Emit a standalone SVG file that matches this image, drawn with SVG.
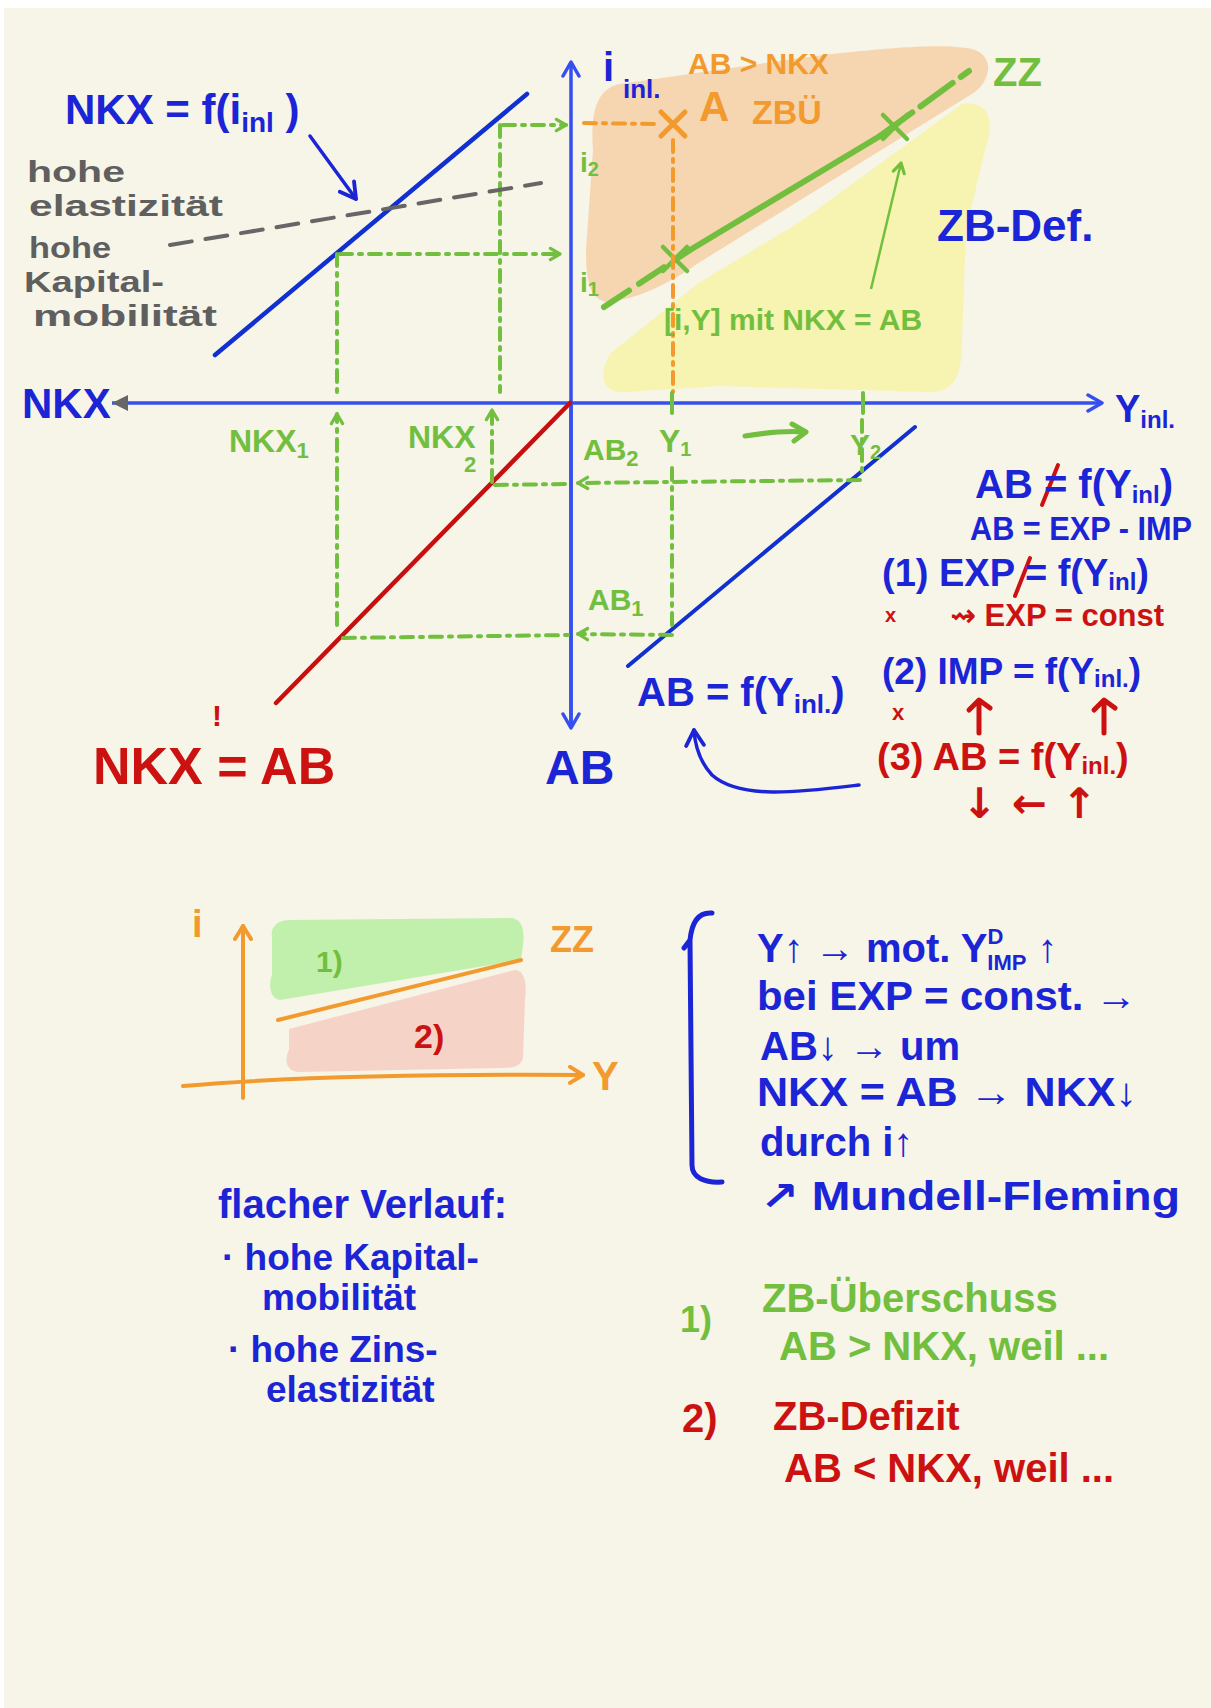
<svg xmlns="http://www.w3.org/2000/svg" width="1211" height="1708" viewBox="0 0 1211 1708">
<defs>
<style>
text{font-family:"Liberation Sans","DejaVu Sans",sans-serif;font-weight:bold}
.b{fill:#1b25d6}
.g{fill:#72bf3f}
.o{fill:#f29a2e}
.r{fill:#cc1111}
.gr{fill:#5f5f5f}
.arr{font-family:"DejaVu Sans",sans-serif}
.axis{stroke:#3550ee;stroke-width:3.5;fill:none}
.gd{stroke:#72bf3f;stroke-width:4;fill:none;stroke-dasharray:12 7 3 7;stroke-linecap:round}
.od{stroke:#f29a2e;stroke-width:4;fill:none;stroke-dasharray:12 7 3 7;stroke-linecap:round}
.ra{stroke:#cc1111;stroke-width:5;fill:none;stroke-linecap:round;stroke-linejoin:round}
</style>
<marker id="chevB" viewBox="0 0 20 20" refX="18" refY="10" markerWidth="20" markerHeight="20" markerUnits="userSpaceOnUse" orient="auto"><path d="M4,2 L18,10 L4,18" fill="none" stroke="#3550ee" stroke-width="3.5" stroke-linecap="round" stroke-linejoin="round"/></marker>
<marker id="chevDB" viewBox="0 0 20 20" refX="18" refY="10" markerWidth="22" markerHeight="22" markerUnits="userSpaceOnUse" orient="auto"><path d="M4,2 L18,10 L4,18" fill="none" stroke="#1b25d6" stroke-width="3.5" stroke-linecap="round" stroke-linejoin="round"/></marker>
<marker id="triGray" viewBox="0 0 20 20" refX="18" refY="10" markerWidth="20" markerHeight="20" markerUnits="userSpaceOnUse" orient="auto"><path d="M2,2 L18,10 L2,18 Z" fill="#666"/></marker>
<marker id="chevG" viewBox="0 0 20 20" refX="17" refY="10" markerWidth="16" markerHeight="16" markerUnits="userSpaceOnUse" orient="auto"><path d="M5,3 L17,10 L5,17" fill="none" stroke="#72bf3f" stroke-width="4" stroke-linecap="round" stroke-linejoin="round"/></marker>
<marker id="chevO" viewBox="0 0 20 20" refX="17" refY="10" markerWidth="20" markerHeight="20" markerUnits="userSpaceOnUse" orient="auto"><path d="M4,2 L17,10 L4,18" fill="none" stroke="#f29a2e" stroke-width="4" stroke-linecap="round" stroke-linejoin="round"/></marker>
</defs>
<rect width="1211" height="1708" fill="#ffffff"/>
<rect x="4" y="8" width="1207" height="1700" fill="#f7f4e8"/>

<g id="regions">
<path d="M593,150 C590,110 598,88 620,84 L800,58 C880,48 950,42 975,50 C995,58 990,80 975,92 L700,262 C660,290 630,300 608,302 C590,300 586,282 586,250 Z" fill="#f6d6b0"/>
<path d="M962,104 C990,100 995,122 985,150 L966,230 L962,340 C962,375 955,392 930,392 L720,386 L622,392 C600,392 598,370 612,352 L700,282 L800,222 Z" fill="#f6f4b0"/>
<path d="M272,937 C270,925 280,920 290,920 L510,918 C522,918 525,930 523,945 L521,960 L280,1000 C270,998 268,985 272,975 Z" fill="#c1f0ad"/>
<path d="M289,1029 L515,970 C525,970 527,985 525,1000 L523,1058 C520,1068 510,1068 500,1068 L300,1072 C286,1072 284,1060 289,1050 Z" fill="#f6d3c7"/>
</g>

<g id="connectors">
<line class="axis" x1="571" y1="725" x2="571" y2="62" marker-end="url(#chevB)"/>
<line class="axis" x1="571" y1="402" x2="571" y2="728" marker-end="url(#chevB)"/>
<line class="axis" x1="571" y1="403" x2="112" y2="403" marker-end="url(#triGray)"/>
<line class="axis" x1="571" y1="403" x2="1102" y2="403" marker-end="url(#chevB)"/>
<line x1="215" y1="355" x2="527" y2="94" stroke="#1030d0" stroke-width="4.5" stroke-linecap="round"/>
<line x1="570" y1="403" x2="276" y2="703" stroke="#c80f0f" stroke-width="4.5" stroke-linecap="round"/>
<line x1="628" y1="666" x2="915" y2="427" stroke="#1030d0" stroke-width="4" stroke-linecap="round"/>
<line x1="604" y1="307" x2="690" y2="250" stroke="#72bf3f" stroke-width="6" stroke-linecap="round" stroke-dasharray="30 12"/>
<line x1="690" y1="250" x2="880" y2="136" stroke="#72bf3f" stroke-width="6" stroke-linecap="round"/>
<line x1="880" y1="136" x2="969" y2="71" stroke="#72bf3f" stroke-width="6" stroke-linecap="round" stroke-dasharray="40 10"/>
<path d="M663,247 L687,271 M687,247 L663,271" stroke="#72bf3f" stroke-width="4.5" stroke-linecap="round"/>
<path d="M883,115 L907,139 M907,115 L883,139" stroke="#72bf3f" stroke-width="4.5" stroke-linecap="round"/>
<line x1="871" y1="289" x2="901" y2="163" stroke="#72bf3f" stroke-width="2.5" marker-end="url(#chevG)"/>
<path d="M661,112 L685,136 M685,112 L661,136" stroke="#f29a2e" stroke-width="5" stroke-linecap="round"/>
<line class="od" x1="584" y1="123" x2="655" y2="124"/>
<line class="od" x1="673" y1="140" x2="673" y2="392"/>
<line class="gd" x1="503" y1="125" x2="566" y2="125" marker-end="url(#chevG)"/>
<line class="gd" x1="500" y1="125" x2="500" y2="392"/>
<line class="gd" x1="340" y1="254" x2="560" y2="254" marker-end="url(#chevG)"/>
<line class="gd" x1="337" y1="254" x2="337" y2="392"/>
<line class="gd" x1="337" y1="625" x2="337" y2="414" marker-end="url(#chevG)"/>
<line class="gd" x1="492" y1="482" x2="492" y2="410" marker-end="url(#chevG)"/>
<line class="gd" x1="860" y1="480" x2="578" y2="483" marker-end="url(#chevG)"/>
<line class="gd" x1="495" y1="485" x2="570" y2="484"/>
<line class="gd" x1="672" y1="635" x2="578" y2="634" marker-end="url(#chevG)"/>
<line class="gd" x1="343" y1="638" x2="570" y2="635"/>
<line class="gd" x1="672" y1="468" x2="672" y2="632"/>
<line class="gd" x1="862" y1="420" x2="862" y2="478"/>
<line x1="672" y1="393" x2="672" y2="413" stroke="#72bf3f" stroke-width="4" stroke-linecap="round"/>
<line x1="863" y1="393" x2="863" y2="413" stroke="#72bf3f" stroke-width="4" stroke-linecap="round"/>
<path d="M745,436 C770,432 790,431 804,432" stroke="#72bf3f" stroke-width="5" fill="none" stroke-linecap="round"/>
<path d="M792,424 L806,432 L794,441" stroke="#72bf3f" stroke-width="5" fill="none" stroke-linecap="round" stroke-linejoin="round"/>
<line x1="170" y1="245" x2="541" y2="183" stroke="#666" stroke-width="4" stroke-dasharray="22 14" stroke-linecap="round"/>
<line x1="310" y1="136" x2="356" y2="199" stroke="#1b25d6" stroke-width="3.5" stroke-linecap="round" marker-end="url(#chevDB)"/>
<path d="M859,785 C800,792 740,800 712,775 C700,762 695,745 694,730" stroke="#1b25d6" stroke-width="3.5" fill="none" stroke-linecap="round" marker-end="url(#chevDB)"/>
<line x1="1042" y1="505" x2="1058" y2="465" stroke="#cc1111" stroke-width="4" stroke-linecap="round"/>
<line x1="1015" y1="596" x2="1030" y2="558" stroke="#cc1111" stroke-width="4" stroke-linecap="round"/>
<path class="ra" d="M979,733 L979,703 M969,710 L979,700 L990,708"/>
<path class="ra" d="M1104,733 L1104,703 M1094,710 L1104,700 L1115,708"/>
<line x1="243" y1="1098" x2="243" y2="926" stroke="#f29a2e" stroke-width="4" stroke-linecap="round" marker-end="url(#chevO)"/>
<path d="M183,1086 C300,1076 450,1074 583,1075" stroke="#f29a2e" stroke-width="4" fill="none" stroke-linecap="round" marker-end="url(#chevO)"/>
<line x1="278" y1="1020" x2="521" y2="960" stroke="#f29a2e" stroke-width="4" stroke-linecap="round"/>
<path d="M712,913 C700,912 692,920 690,940 L692,1165 C692,1178 705,1183 722,1182 M690,940 L684,948" stroke="#1b25d6" stroke-width="5" fill="none" stroke-linecap="round"/>
</g>

<g id="label-main-axes">
<text class="b" x="22" y="418" font-size="42">NKX</text>
<text class="b" x="603" y="81" font-size="40">i</text>
<text class="b" x="623" y="98" font-size="26">inl.</text>
<text class="b" x="1115" y="422" font-size="38">Y<tspan font-size="24" dy="6">inl.</tspan></text>
<text class="b" x="545" y="784" font-size="48">AB</text>
</g>

<g id="label-nkx-function">
<text class="b" x="65" y="124" font-size="42">NKX = f(i<tspan font-size="28" dy="8">inl</tspan><tspan dy="-8"> )</tspan></text>
</g>

<g id="label-gray-note">
<text class="gr" x="27" y="182" font-size="30" textLength="98" lengthAdjust="spacingAndGlyphs">hohe</text>
<text class="gr" x="29" y="216" font-size="30" textLength="194" lengthAdjust="spacingAndGlyphs">elastizität</text>
<text class="gr" x="29" y="258" font-size="30" textLength="82" lengthAdjust="spacingAndGlyphs">hohe</text>
<text class="gr" x="24" y="292" font-size="30" textLength="140" lengthAdjust="spacingAndGlyphs">Kapital-</text>
<text class="gr" x="33" y="326" font-size="30" textLength="184" lengthAdjust="spacingAndGlyphs">mobilität</text>
</g>

<g id="label-top-right">
<text class="o" x="688" y="74" font-size="30">AB &gt; NKX</text>
<text class="o" x="699" y="121" font-size="42">A</text>
<text class="o" x="752" y="124" font-size="34">ZBÜ</text>
<text class="g" x="993" y="86" font-size="40">ZZ</text>
<text class="b" x="937" y="241" font-size="44">ZB-Def.</text>
<text class="g" x="664" y="330" font-size="30">[i,Y] mit NKX = AB</text>
<text class="g" x="580" y="172" font-size="28">i<tspan font-size="20" dy="4">2</tspan></text>
<text class="g" x="580" y="292" font-size="28">i<tspan font-size="20" dy="4">1</tspan></text>
</g>

<g id="label-green-values">
<text class="g" x="229" y="452" font-size="32">NKX<tspan font-size="22" dy="6">1</tspan></text>
<text class="g" x="408" y="448" font-size="32">NKX</text>
<text class="g" x="464" y="472" font-size="22">2</text>
<text class="g" x="583" y="460" font-size="30">AB<tspan font-size="22" dy="6">2</tspan></text>
<text class="g" x="588" y="610" font-size="30">AB<tspan font-size="22" dy="6">1</tspan></text>
<text class="g" x="659" y="452" font-size="32">Y<tspan font-size="20" dy="4">1</tspan></text>
<text class="g" x="850" y="455" font-size="30">Y<tspan font-size="20" dy="4">2</tspan></text>
</g>

<g id="label-red-identity">
<text class="r" x="93" y="784" font-size="52">NKX = AB</text>
<text class="r" x="212" y="726" font-size="30">!</text>
</g>

<g id="label-ab-function">
<text class="b" x="637" y="706" font-size="40">AB = f(Y<tspan font-size="26" dy="7">inl.</tspan><tspan dy="-7">)</tspan></text>
</g>

<g id="label-right-notes">
<text class="b" x="975" y="498" font-size="40">AB = f(Y<tspan font-size="24" dy="5">inl</tspan><tspan dy="-5">)</tspan></text>
<text class="b" x="970" y="540" font-size="33" textLength="222" lengthAdjust="spacingAndGlyphs">AB = EXP - IMP</text>
<text class="b" x="882" y="586" font-size="38">(1) EXP = f(Y<tspan font-size="24" dy="4">inl</tspan><tspan dy="-4">)</tspan></text>
<text class="r" x="885" y="622" font-size="20">x</text>
<text class="r" x="950" y="626" font-size="31">⇝ EXP = const</text>
<text class="b" x="882" y="684" font-size="37">(2) IMP = f(Y<tspan font-size="24" dy="3">inl.</tspan><tspan dy="-3">)</tspan></text>
<text class="r" x="892" y="720" font-size="22">x</text>
<text class="r" x="877" y="770" font-size="38">(3) AB = f(Y<tspan font-size="24" dy="4">inl.</tspan><tspan dy="-4">)</tspan></text>
<text class="r arr" x="962" y="818" font-size="42">↓ ← ↑</text>
</g>

<g id="label-small-diagram">
<text class="o" x="192" y="937" font-size="38">i</text>
<text class="o" x="592" y="1090" font-size="40">Y</text>
<text class="o" x="550" y="952" font-size="36">ZZ</text>
<text class="g" x="316" y="972" font-size="30">1)</text>
<text class="r" x="414" y="1048" font-size="34">2)</text>
</g>

<g id="label-mechanism">
<text class="b" x="757" y="962" font-size="40">Y↑ → mot. Y<tspan font-size="22" dy="-18">D</tspan><tspan font-size="22" dx="-16" dy="26">IMP</tspan><tspan dy="-8"> ↑</tspan></text>
<text class="b" x="757" y="1010" font-size="40" textLength="380" lengthAdjust="spacingAndGlyphs">bei EXP = const. →</text>
<text class="b" x="760" y="1060" font-size="40" textLength="200" lengthAdjust="spacingAndGlyphs">AB↓ → um</text>
<text class="b" x="757" y="1106" font-size="40" textLength="380" lengthAdjust="spacingAndGlyphs">NKX = AB → NKX↓</text>
<text class="b" x="760" y="1156" font-size="40">durch i↑</text>
<text class="b" x="760" y="1210" font-size="40" textLength="420" lengthAdjust="spacingAndGlyphs">↗ Mundell-Fleming</text>
</g>

<g id="label-flat">
<text class="b" x="218" y="1218" font-size="40">flacher Verlauf:</text>
<text class="b" x="222" y="1270" font-size="37">· hohe Kapital-</text>
<text class="b" x="262" y="1310" font-size="37">mobilität</text>
<text class="b" x="228" y="1362" font-size="37">· hohe Zins-</text>
<text class="b" x="266" y="1402" font-size="37">elastizität</text>
</g>

<g id="label-cases">
<text class="g" x="680" y="1332" font-size="36">1)</text>
<text class="g" x="762" y="1312" font-size="40">ZB-Überschuss</text>
<text class="g" x="779" y="1360" font-size="40">AB &gt; NKX, weil ...</text>
<text class="r" x="682" y="1432" font-size="40">2)</text>
<text class="r" x="773" y="1430" font-size="40">ZB-Defizit</text>
<text class="r" x="784" y="1482" font-size="40">AB &lt; NKX, weil ...</text>
</g>
</svg>
